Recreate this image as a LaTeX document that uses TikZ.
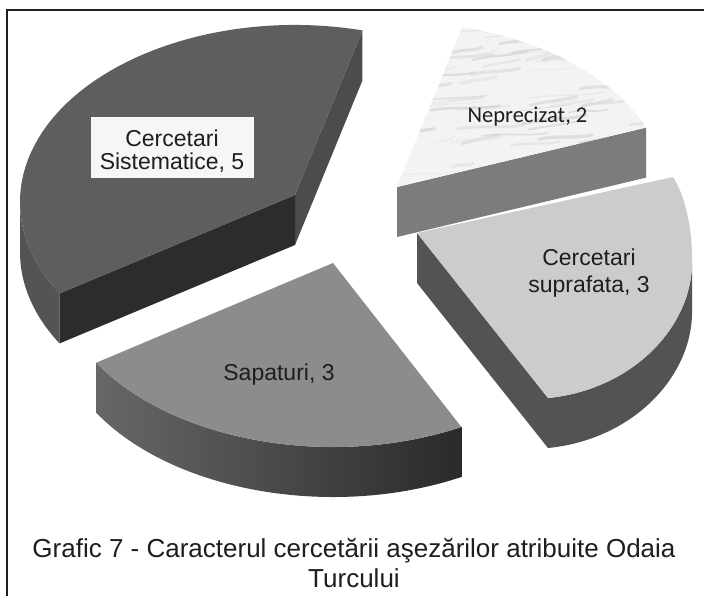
\documentclass[tikz,border=0pt]{standalone}
\usepackage{fontspec}
\setmainfont{Liberation Sans}
\newfontfamily\calib{Carlito}
\usetikzlibrary{calc}
\definecolor{sistop}{RGB}{94,94,94}
\definecolor{sisfront}{RGB}{46,43,43}
\definecolor{sisleft}{RGB}{84,84,84}
\definecolor{sisright}{RGB}{76,76,76}
\definecolor{saptop}{RGB}{141,139,139}
\definecolor{sapsideL}{RGB}{104,103,103}
\definecolor{sapsideR}{RGB}{44,41,41}
\definecolor{neptop}{RGB}{243,243,243}
\definecolor{nepside}{RGB}{125,123,123}
\definecolor{suptop}{RGB}{204,204,204}
\definecolor{supside}{RGB}{84,82,82}
\definecolor{boxc}{RGB}{246,246,246}
\definecolor{txt}{RGB}{30,30,30}
\begin{document}
\begin{tikzpicture}[x=1pt,y=-1pt,
  lbl/.style={font=\fontsize{23}{23}\selectfont, align=center, text=txt, inner sep=0pt},
  caption/.style={font=\fontsize{26}{30}\selectfont, align=center, text=txt, inner sep=0pt},
  frame/.style={line width=2.4pt, draw=black!88},
]
\useasboundingbox (0,0) rectangle (704,596);
\fill[white] (0,0) rectangle (704,596);
% frame (only top and left edges are visible)
\coordinate (ftr) at (704,10);
\coordinate (ftl) at (7,10);
\coordinate (fbl) at (7,596);
\draw[frame] (ftr) -- (ftl) -- (fbl);

% ---------------- Cercetari Sistematice ----------------
\coordinate (s1) at (295,195);
\coordinate (e1) at (295,202);
\coordinate (sa) at ($(e1)+(-75.8:275 and 177)$);
\coordinate (sc) at ($(e1)+(148.9:275 and 177)$);
\coordinate (sl) at ($(e1)+(180:275 and 177)$);
\fill[sisleft] (sl) arc[start angle=180, end angle=148.9, x radius=275, y radius=177]
  -- ++(0,50) arc[start angle=148.9, end angle=180, x radius=275, y radius=177] -- cycle;
\fill[sisright] (s1) -- (sa) -- ($(sa)+(0,50)$) -- ($(s1)+(0,50)$) -- cycle;
\fill[sisfront] (s1) -- (sc) -- ($(sc)+(0,50)$) -- ($(s1)+(0,50)$) -- cycle;
\fill[sistop] (s1) -- (sa) arc[start angle=-75.8, end angle=-211.1, x radius=275, y radius=177] -- cycle;

% ---------------- Neprecizat ----------------
\coordinate (n1) at (397,187);
\coordinate (e3) at (397,194);
\coordinate (na) at ($(e3)+(-76:270 and 172)$);
\coordinate (nb) at ($(e3)+(-22.7:270 and 172)$);
\fill[nepside] (n1) -- (nb) -- ($(nb)+(0,50)$) -- ($(n1)+(0,50)$) -- cycle;
\begin{scope}
  \clip (n1) -- (na) arc[start angle=-76, end angle=-22.7, x radius=270, y radius=172] -- cycle;
  \fill[neptop] (380,15) rectangle (670,200);
  \pgfmathsetseed{11}
  \foreach \i in {1,...,110}{
    \pgfmathsetmacro\xx{360+rnd*300}
    \pgfmathsetmacro\yy{18+rnd*180}
    \pgfmathsetmacro\ll{20+rnd*55}
    \pgfmathsetmacro\ww{0.8+rnd*3.2}
    \pgfmathsetmacro\gg{8+rnd*14}
    \pgfmathsetmacro\dd{-3-rnd*6}
    \draw[black!\gg, line width=\ww pt, line cap=round, opacity=0.55]
      (\xx,\yy) .. controls +(\ll/3,-4) and +(-\ll/3,4) .. +(\ll,\dd);
  }
\end{scope}

% ---------------- Sapaturi ----------------
\coordinate (p1) at (333,263);
\coordinate (e2) at (333,270);
\coordinate (pa) at ($(e2)+(148.4:278 and 177)$);
\shade[left color=sapsideL, right color=sapsideR]
  (pa) arc[start angle=148.4, end angle=62.5, x radius=278, y radius=177]
  -- ++(0,50) arc[start angle=62.5, end angle=148.4, x radius=278, y radius=177] -- cycle;
\fill[saptop] (p1) -- (pa) arc[start angle=148.4, end angle=62.5, x radius=278, y radius=177] -- cycle;

% ---------------- Cercetari suprafata ----------------
\coordinate (u1) at (417,233);
\coordinate (ua) at (673,177);
\coordinate (ur) at (692,265);
\coordinate (ub) at (548,398);
\fill[supside] (u1) -- (ub) -- ($(ub)+(0,50)$) -- ($(u1)+(0,50)$) -- cycle;
\fill[supside] (ur) .. controls (690,330) and (630,390) .. (ub)
  -- ($(ub)+(0,50)$) .. controls (630,440) and (690,380) .. ($(ur)+(0,50)$) -- cycle;
\fill[suptop] (u1) -- (ua) .. controls (685,195) and (693,230) .. (ur)
  .. controls (690,330) and (630,390) .. (ub) -- cycle;

% ---------------- labels ----------------
\node[fill=boxc, minimum width=163, minimum height=61, inner sep=0pt] (sbox) at (172,147.5) {};
\node[lbl] (slab) at (172,151) {Cercetari\\Sistematice, 5};
\node[lbl, font=\calib\fontsize{22.5}{24}\selectfont, anchor=base] (nlab) at (527.5,123) {Neprecizat, 2};
\node[lbl, font=\fontsize{23}{27}\selectfont] (ulab) at (589,273) {Cercetari\\suprafata, 3};
\node[lbl, anchor=base] (plab) at (279,380) {Sapaturi, 3};
\node[caption] (cap) at (354,563) {Grafic 7 - Caracterul cercetării aşezărilor atribuite Odaia\\Turcului};
\end{tikzpicture}
\end{document}
